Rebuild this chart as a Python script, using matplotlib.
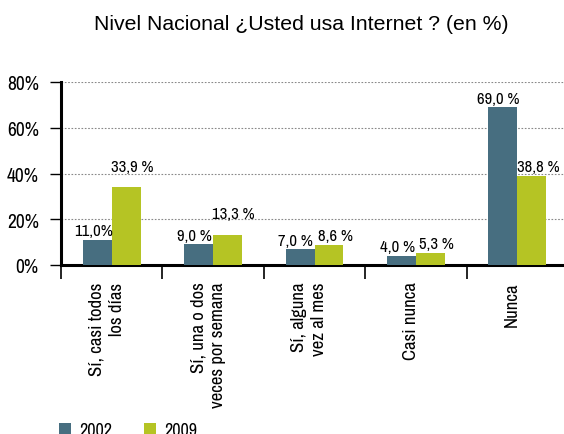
import numpy as np
from matplotlib import pyplot as plt
from matplotlib import font_manager

# narrow sans for everything except the title
names = {f.name for f in font_manager.fontManager.ttflist}
narrow = next(n for n in ['Liberation Sans Narrow', 'Arial Narrow', 'Nimbus Sans Narrow',
                          'Archivo Narrow', 'DejaVu Sans'] if n in names)
plt.rcParams['font.family'] = [narrow, 'DejaVu Sans']

categories = ['Sí, casi todos\nlos días', 'Sí, una o dos\nveces por semana',
              'Sí, alguna\nvez al mes', 'Casi nunca', 'Nunca']
v2002 = [11.0, 9.0, 7.0, 4.0, 69.0]
v2009 = [33.9, 13.3, 8.6, 5.3, 38.8]
lab2002 = ['11,0%', '9,0 %', '7,0 %', '4,0 %', '69,0 %']
lab2009 = ['33,9 %', '13,3 %', '8,6 %', '5,3 %', '38,8 %']
# the first two green labels sit higher in the original
lift2009 = [8, 8, 0, 0, 0]
yticks = [0, 20, 40, 60, 80]

blue = '#476e80'
green = '#b5c424'

fig = plt.figure(figsize=(5.64, 4.35), dpi=100)
ax = fig.add_axes([61 / 564, 1 - 266 / 435, 507 / 564, 183 / 435])

x = np.arange(len(categories))
w = 0.285
ax.bar(x - w / 2, v2002, width=w, color=blue, label='2002', zorder=3)
ax.bar(x + w / 2, v2009, width=w, color=green, label='2009', zorder=3)

# value labels nudged a bit outwards from the bar centres, like the original
for i in range(len(x)):
    ax.annotate(lab2002[i], (x[i] - w / 2, v2002[i]), xytext=(-3, 1),
                textcoords='offset points', ha='center', va='bottom', fontsize=12)
    ax.annotate(lab2009[i], (x[i] + w / 2, v2009[i]), xytext=(4.5, 1.5 + lift2009[i]),
                textcoords='offset points', ha='center', va='bottom', fontsize=12)

ax.set_xlim(-0.5, 4.5)
ax.set_ylim(0, 80)
ax.set_yticks(yticks)
ax.set_yticklabels([f'{t}%' for t in yticks], fontsize=14)
ax.tick_params(axis='y', length=8, width=1, pad=8)

# category boundary ticks below, labels at the centres
ax.set_xticks(np.arange(-0.5, 5, 1.0))
ax.set_xticklabels([])
ax.tick_params(axis='x', length=10, width=1.2, direction='out')
for i, c in enumerate(categories):
    ax.text(x[i] - 0.05, -0.09, c, transform=ax.get_xaxis_transform(),
            rotation=90, ha='center', va='top', multialignment='right',
            fontsize=13.5, linespacing=1.3)

ax.grid(axis='y', linestyle=(0, (1.5, 1.5)), color='#888888', linewidth=0.8, zorder=0)
for s in ['top', 'right']:
    ax.spines[s].set_visible(False)
ax.spines['left'].set_linewidth(2.2)
ax.spines['bottom'].set_linewidth(2.2)

fig.text(301 / 564, 1 - 24 / 435, 'Nivel Nacional ¿Usted usa Internet ? (en %)',
         ha='center', va='center', fontsize=15.3, family=['Liberation Sans', 'DejaVu Sans'])

fig.legend(loc='center left', bbox_to_anchor=(43 / 564, 1 - 431 / 435), ncol=2,
           frameon=False, fontsize=13, handlelength=0.66, handleheight=0.66,
           columnspacing=1.77, handletextpad=0.44)

fig.savefig('out.png', dpi=100)
